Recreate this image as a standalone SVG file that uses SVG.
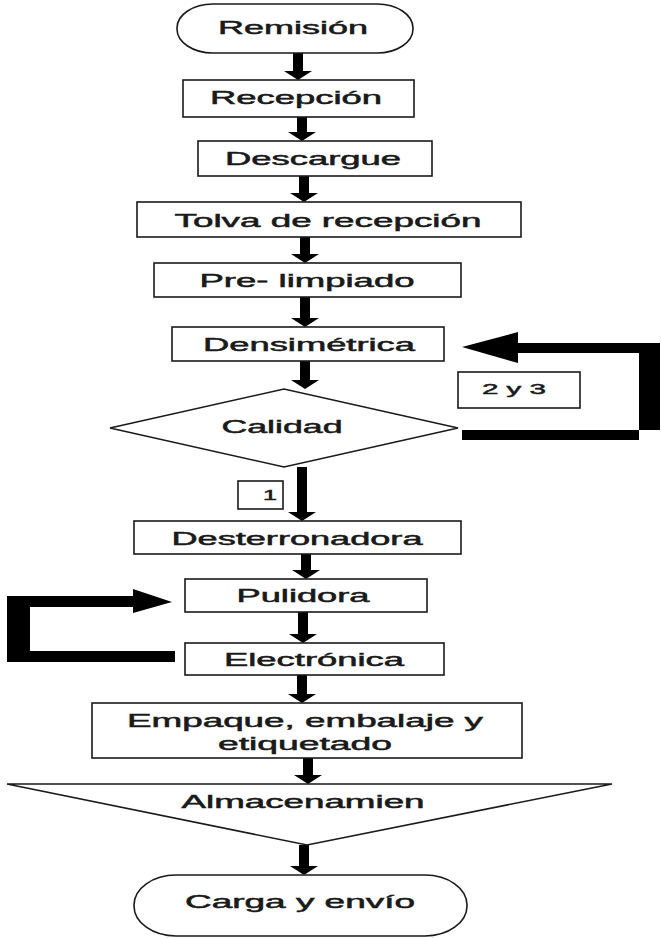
<svg xmlns="http://www.w3.org/2000/svg" width="661" height="938" viewBox="0 0 661 938">
<style>
.box{fill:#fff;stroke:#1a1a1a;stroke-width:1.6}
.t{font-family:"Liberation Sans",Arial,sans-serif;font-size:18px;fill:#1a1a1a;stroke:#1a1a1a;stroke-width:0.5;text-anchor:middle}
.s{font-size:15px}
.c{fill:#000}
</style>
<rect width="661" height="938" fill="#fff"/>
<g id="connectors">
<path class="c" d="M293,53 h10 v18 h9 l-14,9 l-14,-9 h9 z"/>
<path class="c" d="M297,117 h10 v15 h9 l-14,9 l-14,-9 h9 z"/>
<path class="c" d="M299,176 h10 v17 h9 l-14,9 l-14,-9 h9 z"/>
<path class="c" d="M300,237 h10 v17 h9 l-14,9 l-14,-9 h9 z"/>
<path class="c" d="M300,297 h10 v21 h9 l-14,9 l-14,-9 h9 z"/>
<path class="c" d="M300,361 h10 v19 h9 l-14,9 l-14,-9 h9 z"/>
<path class="c" d="M297,467 h10 v45 h9 l-14,9 l-14,-9 h9 z"/>
<path class="c" d="M301,554 h10 v16 h9 l-14,9 l-14,-9 h9 z"/>
<path class="c" d="M298,612 h10 v22 h9 l-14,9 l-14,-9 h9 z"/>
<path class="c" d="M297,675 h10 v19 h9 l-14,9 l-14,-9 h9 z"/>
<path class="c" d="M303,758 h10 v17 h9 l-14,9 l-14,-9 h9 z"/>
<path class="c" d="M299,845 h10 v21 h9 l-14,9 l-14,-9 h9 z"/>
<path class="c" d="M462,430 H660 V343 H518 V332 L462,347 L518,363 V353 H639 V440 H462 z"/>
<path class="c" d="M175,651 H7 V596 H133 V589 L172,602 L133,613 V607 H30 V651 H175 V662 H7 V651 z"/>
</g>
<g id="remision">
<rect class="box" x="177" y="4" width="236" height="49" rx="36" ry="24"/>
<text class="t" x="293" y="34" textLength="150" lengthAdjust="spacingAndGlyphs">Remisión</text>
</g>
<g id="recepcion">
<rect class="box" x="183" y="80" width="231" height="37"/>
<text class="t" x="296" y="104" textLength="172" lengthAdjust="spacingAndGlyphs">Recepción</text>
</g>
<g id="descargue">
<rect class="box" x="198" y="141" width="234" height="35"/>
<text class="t" x="313" y="165" textLength="176" lengthAdjust="spacingAndGlyphs">Descargue</text>
</g>
<g id="tolva">
<rect class="box" x="137" y="202" width="384" height="35"/>
<text class="t" x="328" y="227" textLength="307" lengthAdjust="spacingAndGlyphs">Tolva de recepción</text>
</g>
<g id="prelimpiado">
<rect class="box" x="154" y="263" width="307" height="34"/>
<text class="t" x="307" y="287" textLength="215" lengthAdjust="spacingAndGlyphs">Pre- limpiado</text>
</g>
<g id="densimetrica">
<rect class="box" x="172" y="327" width="272" height="34"/>
<text class="t" x="309" y="351" textLength="212" lengthAdjust="spacingAndGlyphs">Densimétrica</text>
</g>
<g id="calidad">
<polygon class="box" points="110,428 284,389 458,428 284,467"/>
<text class="t" x="282" y="433" textLength="121" lengthAdjust="spacingAndGlyphs">Calidad</text>
</g>
<g id="label23">
<rect class="box" x="458" y="372" width="122" height="36"/>
<text class="t s" x="514" y="394" textLength="64" lengthAdjust="spacingAndGlyphs">2 y 3</text>
</g>
<g id="label1">
<rect class="box" x="238" y="481" width="45" height="28"/>
<text class="t" x="270" y="500" style="font-size:14px" textLength="14" lengthAdjust="spacingAndGlyphs">1</text>
</g>
<g id="desterronadora">
<rect class="box" x="134" y="521" width="327" height="33"/>
<text class="t" x="297" y="545" textLength="251" lengthAdjust="spacingAndGlyphs">Desterronadora</text>
</g>
<g id="pulidora">
<rect class="box" x="185" y="579" width="242" height="33"/>
<text class="t" x="303" y="602" textLength="133" lengthAdjust="spacingAndGlyphs">Pulidora</text>
</g>
<g id="electronica">
<rect class="box" x="185" y="643" width="259" height="32"/>
<text class="t" x="314" y="666" textLength="180" lengthAdjust="spacingAndGlyphs">Electrónica</text>
</g>
<g id="empaque">
<rect class="box" x="92" y="703" width="430" height="55"/>
<text class="t" x="305" y="727" textLength="356" lengthAdjust="spacingAndGlyphs">Empaque, embalaje y</text>
<text class="t" x="305" y="750" textLength="174" lengthAdjust="spacingAndGlyphs">etiquetado</text>
</g>
<g id="almacenamiento">
<polygon class="box" points="7,784 612,784 307,845"/>
<text class="t" x="303" y="808" textLength="243" lengthAdjust="spacingAndGlyphs">Almacenamien</text>
</g>
<g id="carga">
<rect class="box" x="134" y="875" width="333" height="61" rx="42" ry="30"/>
<text class="t" x="300" y="908" textLength="230" lengthAdjust="spacingAndGlyphs">Carga y envío</text>
</g>
</svg>
